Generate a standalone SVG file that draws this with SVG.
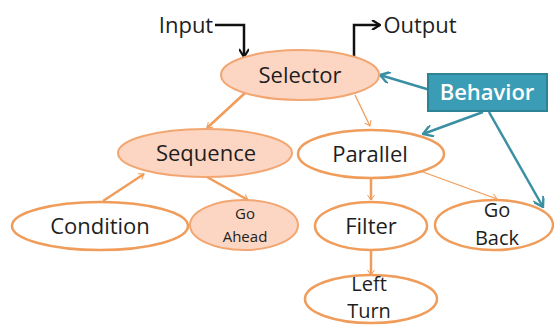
<svg xmlns="http://www.w3.org/2000/svg" width="554" height="325" viewBox="0 0 554 325">
<style>
.t{font-family:"Open Sans","Liberation Sans",sans-serif;fill:#1e1e1e;text-anchor:middle;font-size:22px}
.s{font-size:15px}
.m{font-size:20px}
.fill{fill:#fcd6c2;stroke:#f2a672;stroke-width:2}
.open{fill:#fff;stroke:#f09c5a;stroke-width:2.5}
.oa{stroke:#f09c5a;stroke-width:2.5;fill:none;marker-end:url(#ao)}
.oat{stroke:#f09c5a;stroke-width:1.3;fill:none;marker-end:url(#ao)}
.ta{stroke:#3a8fa2;stroke-width:2.5;fill:none;marker-end:url(#at)}
.ka{stroke:#111;stroke-width:2.5;fill:none;marker-end:url(#ak)}
</style>
<defs>
<marker id="ao" viewBox="0 0 10 10" refX="9" refY="5" markerWidth="5" markerHeight="5" orient="auto" markerUnits="userSpaceOnUse" overflow="visible"><path d="M-1,-2 L9,5 L-1,12" fill="none" stroke="#f09c5a" stroke-width="2"/></marker>
<marker id="at" viewBox="0 0 10 10" refX="9" refY="5" markerWidth="12" markerHeight="12" orient="auto" markerUnits="userSpaceOnUse"><path d="M1,0 L9,5 L1,10" fill="none" stroke="#3a8fa2" stroke-width="2"/></marker>
<marker id="ak" viewBox="0 0 10 10" refX="9" refY="5" markerWidth="10" markerHeight="10" orient="auto" markerUnits="userSpaceOnUse"><path d="M1,0 L9,5 L1,10" fill="none" stroke="#111" stroke-width="2.2"/></marker>
</defs>
<g id="connectors">
<path class="ka" d="M215,25 H244 V57"/>
<path class="ka" d="M354,57 V25 H380"/>
<path class="oa" d="M245,93 L207,128"/>
<path class="oat" d="M355,95 L370,126"/>
<path class="oa" d="M103,201 L144,174"/>
<path class="oa" d="M207,177 L248,200"/>
<path class="oa" d="M371,178 L371,200"/>
<path class="oat" d="M423,172 L497,199"/>
<path class="oa" d="M371,250 L371,275"/>
<path class="ta" d="M430,90 L380,75"/>
<path class="ta" d="M483,112 L423,134"/>
<path class="ta" d="M489,112 L543,207"/>
</g>
<g id="input"><text class="t" x="186" y="33">Input</text></g>
<g id="output"><text class="t" x="420" y="33">Output</text></g>
<g id="selector"><ellipse class="fill" cx="300" cy="75" rx="79" ry="25"/><text class="t" x="300" y="83">Selector</text></g>
<g id="sequence"><ellipse class="fill" cx="205" cy="153" rx="87" ry="24"/><text class="t" x="206" y="161">Sequence</text></g>
<g id="parallel"><ellipse class="open" cx="371" cy="154" rx="73" ry="24"/><text class="t" x="370" y="162">Parallel</text></g>
<g id="condition"><ellipse class="open" cx="100" cy="226" rx="88" ry="24"/><text class="t" x="100" y="234">Condition</text></g>
<g id="goahead"><ellipse class="fill" cx="244" cy="225" rx="54" ry="25"/><text class="t s" x="245" y="219">Go</text><text class="t s" x="245" y="242">Ahead</text></g>
<g id="filter"><ellipse class="open" cx="371" cy="226" rx="56" ry="24"/><text class="t" x="371" y="234">Filter</text></g>
<g id="goback"><ellipse class="open" cx="494" cy="225" rx="59" ry="25"/><text class="t m" x="497" y="217">Go</text><text class="t m" x="497" y="245">Back</text></g>
<g id="leftturn"><ellipse class="open" cx="371" cy="299" rx="66" ry="24"/><text class="t m" x="369" y="291">Left</text><text class="t m" x="369" y="318">Turn</text></g>
<g id="behavior"><rect x="428" y="74" width="119" height="37" fill="#3b9db5" stroke="#2d8296" stroke-width="2"/><text class="t" x="487" y="100" style="fill:#fff;font-weight:600">Behavior</text></g>
</svg>
